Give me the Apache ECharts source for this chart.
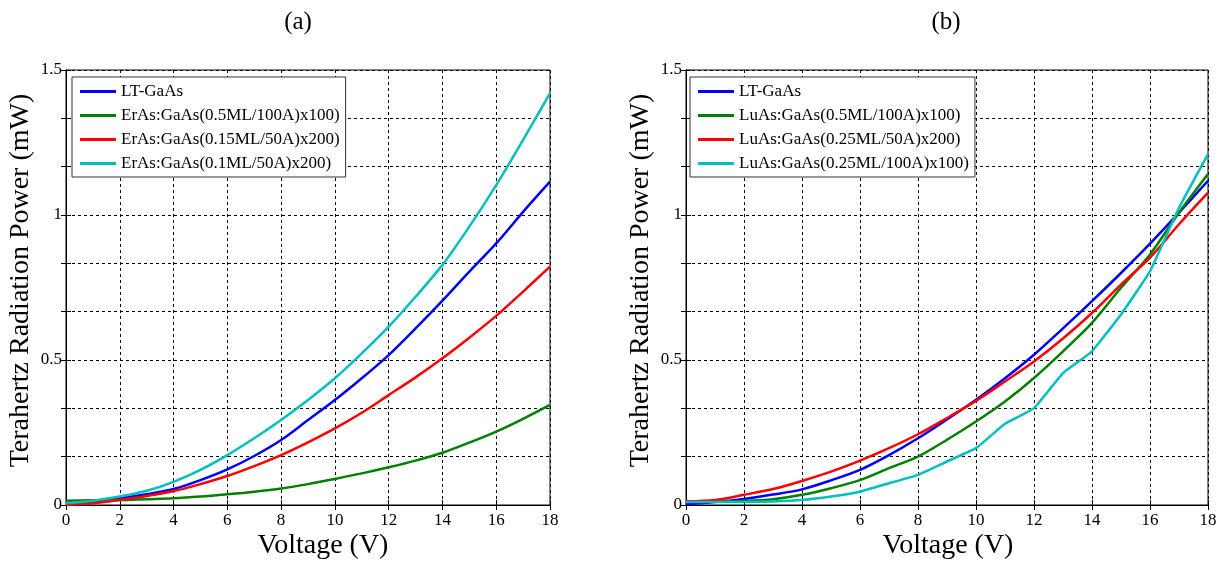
<!DOCTYPE html>
<html>
<head>
<meta charset="utf-8">
<script src="https://cdn.jsdelivr.net/npm/echarts@6/dist/echarts.min.js"></script>
<style>
html,body{margin:0;padding:0;background:#fff;}
#chart{width:1225px;height:562px;}
</style>
</head>
<body>
<div id="chart"></div>
<script>
// ---- data ----
const voltage = [0,1,2,3,4,5,6,7,8,9,10,11,12,13,14,15,16,17,18];

const ltGaAs      = [0.005,0.011,0.023,0.037,0.055,0.086,0.123,0.169,0.224,0.293,0.362,0.437,0.517,0.609,0.705,0.805,0.902,1.011,1.115];
const erAs05_100  = [0.015,0.016,0.017,0.020,0.023,0.029,0.037,0.046,0.057,0.072,0.090,0.109,0.130,0.153,0.180,0.215,0.253,0.297,0.345];
const erAs015_50  = [0.000,0.006,0.017,0.031,0.048,0.072,0.100,0.134,0.172,0.216,0.264,0.318,0.379,0.440,0.506,0.577,0.652,0.736,0.822];
const erAs01_50   = [0.006,0.015,0.029,0.049,0.080,0.121,0.172,0.230,0.293,0.362,0.437,0.523,0.615,0.718,0.828,0.960,1.103,1.259,1.420];

const ltGaAsB     = [0.003,0.010,0.021,0.036,0.054,0.085,0.121,0.172,0.230,0.295,0.363,0.437,0.518,0.609,0.703,0.800,0.901,1.008,1.118];
const luAs05_100  = [0.012,0.012,0.014,0.020,0.035,0.058,0.086,0.127,0.167,0.225,0.288,0.357,0.438,0.530,0.628,0.749,0.864,1.008,1.141];
const luAs025_50  = [0.012,0.017,0.035,0.055,0.083,0.115,0.153,0.196,0.244,0.300,0.359,0.426,0.495,0.574,0.662,0.760,0.853,0.968,1.077];
const luAs025_100 = [0.010,0.010,0.010,0.012,0.017,0.029,0.046,0.075,0.104,0.150,0.196,0.280,0.334,0.455,0.530,0.657,0.806,1.025,1.210];

const namesA = ['LT-GaAs','ErAs:GaAs(0.5ML/100A)x100)','ErAs:GaAs(0.15ML/50A)x200)','ErAs:GaAs(0.1ML/50A)x200)'];
const namesB = ['LT-GaAs','LuAs:GaAs(0.5ML/100A)x100)','LuAs:GaAs(0.25ML/50A)x200)','LuAs:GaAs(0.25ML/100A)x100)'];
const colors = ['#0000ff','#008000','#ff0000','#00bfbf'];
const xTicks = ['0','2','4','6','8','10','12','14','16','18'];
const yTicks = ['0','0.5','1','1.5'];
const titles = ['(a)','(b)'];
const xTitle = 'Voltage (V)';
const yTitle = 'Terahertz Radiation Power (mW)';

// ---- chart ----
const FONT = '"Liberation Serif","Times New Roman",serif';
const pairs = arr => voltage.map((v,i)=>[v,arr[i]]);

const grids = [
  {left:66, right:675, top:70, bottom:57, show:true, borderColor:'#000', borderWidth:1},
  {left:686, right:17, top:70, bottom:57, show:true, borderColor:'#000', borderWidth:1}
];

function xAx(gi, top){
  return {
    type:'value', gridIndex:gi, min:0, max:18, interval:2,
    position: top ? 'top' : 'bottom',
    axisLine:{show:true, lineStyle:{color:'#000', width:1}},
    axisTick:{show:true, inside:true, length:5, lineStyle:{color:'#000'}},
    axisLabel:{show:!top, fontFamily:FONT, fontSize:17, color:'#000', margin:7,
      formatter: v => xTicks[Math.round(v/2)]},
    splitLine:{show:!top, lineStyle:{color:'#000', type:[3,3], width:1}}
  };
}
function yAx(gi, right){
  return {
    type:'value', gridIndex:gi, min:0, max:1.5, interval:0.5,
    position: right ? 'right' : 'left',
    name: right ? '' : yTitle, nameLocation:'middle', nameGap:31,
    nameTextStyle:{fontFamily:FONT, fontSize:28, color:'#000', padding:[0,0,0,14]},
    axisLine:{show:true, lineStyle:{color:'#000', width:1}},
    axisTick:{show:true, inside:true, length:5, lineStyle:{color:'#000'}},
    minorTick:{show:true, splitNumber:3, length:5, lineStyle:{color:'#000'}},
    axisLabel:{show:!right, fontFamily:FONT, fontSize:17, color:'#000', margin:4,
      formatter: v => yTicks[Math.round(v*2)]},
    splitLine:{show:!right, lineStyle:{color:'#000', type:[3,3], width:1}},
    minorSplitLine:{show:!right, lineStyle:{color:'#000', type:[3,3], width:1}}
  };
}

const seriesA = [ltGaAs, erAs05_100, erAs015_50, erAs01_50];
const seriesB = [ltGaAsB, luAs05_100, luAs025_50, luAs025_100];
const series = [];
seriesA.forEach((arr,i)=>series.push({
  name:namesA[i], type:'line', xAxisIndex:0, yAxisIndex:0, data:pairs(arr),
  showSymbol:false, smooth:0.3, color:colors[i], lineStyle:{width:2.5, color:colors[i]}, z:3+i
}));
seriesB.forEach((arr,i)=>series.push({
  name:namesB[i], type:'line', xAxisIndex:2, yAxisIndex:2, data:pairs(arr),
  showSymbol:false, smooth:i===3?0.1:0.3, color:colors[i], lineStyle:{width:2.5, color:colors[i]}, z:3+i
}));

const legendCommon = {
  orient:'vertical', top:77, icon:'rect', itemWidth:36, itemHeight:3, itemGap:7,
  padding:[6,6,5,8], backgroundColor:'#fff', borderColor:'#333', borderWidth:1,
  textStyle:{fontFamily:FONT, fontSize:17, color:'#000', lineHeight:17},
  z:10
};

const titleStyle = {fontFamily:FONT, fontSize:25, fontWeight:'normal', color:'#000'};
const xTitleStyle = {fontFamily:FONT, fontSize:28, fontWeight:'normal', color:'#000'};

const option = {
  animation:false,
  backgroundColor:'#fff',
  title:[
    {text:titles[0], left:293, top:5, textAlign:'center', textStyle:titleStyle},
    {text:titles[1], left:941, top:5, textAlign:'center', textStyle:titleStyle},
    {text:xTitle, left:323, top:532, textAlign:'center', padding:0, textStyle:xTitleStyle},
    {text:xTitle, left:948, top:532, textAlign:'center', padding:0, textStyle:xTitleStyle}
  ],
  grid: grids,
  xAxis:[xAx(0,false), xAx(0,true), xAx(1,false), xAx(1,true)],
  yAxis:[yAx(0,false), yAx(0,true), yAx(1,false), yAx(1,true)],
  legend:[
    Object.assign({left:72, data:namesA}, legendCommon),
    Object.assign({left:690, data:namesB}, legendCommon)
  ],
  series: series
};
const chart = echarts.init(document.getElementById('chart'), null, {renderer:'canvas'});
chart.setOption(option);
</script>
</body>
</html>
